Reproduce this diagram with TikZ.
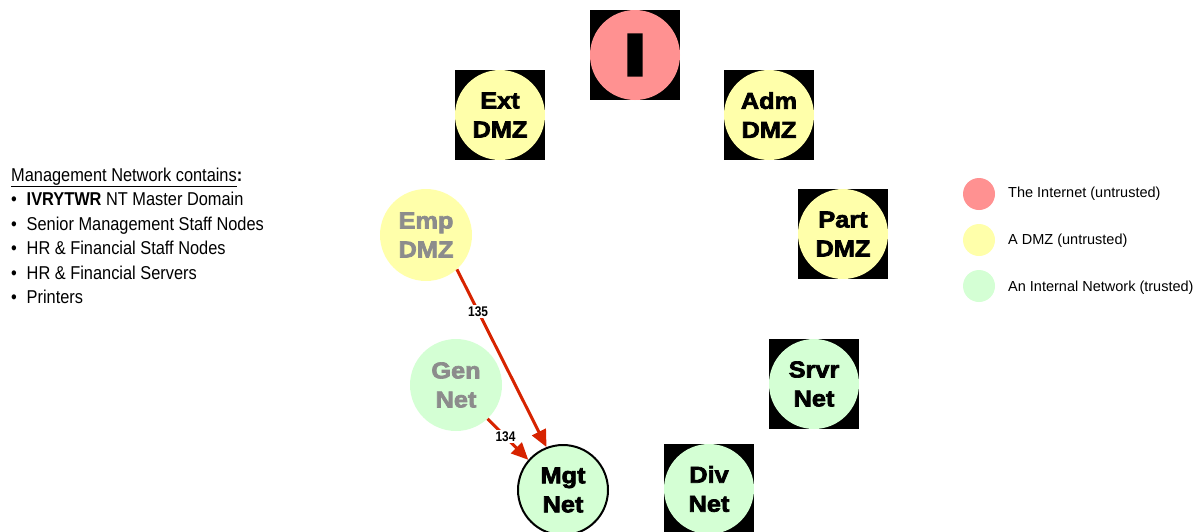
\documentclass[tikz,border=0pt]{standalone}
\usepackage{fontspec}
\setmainfont{Liberation Sans}
\newfontfamily\nodefont{Liberation Sans Bold}[FakeStretch=1.1,FakeBold=3]
\newfontfamily\narrowfont{Liberation Sans}[FakeStretch=0.88]
\newfontfamily\lblfont{Liberation Sans Bold}[FakeStretch=0.85]
\usetikzlibrary{arrows.meta}
\definecolor{inetred}{RGB}{255,145,145}
\definecolor{dmzyellow}{RGB}{255,255,170}
\definecolor{intgreen}{RGB}{212,255,212}
\definecolor{grayt}{RGB}{140,140,140}
\definecolor{arrowred}{RGB}{215,35,0}
\tikzset{
  backsq/.style={rectangle, fill=black, minimum size=90pt, inner sep=0pt},
  netnode/.style={circle, minimum size=90pt, inner sep=0pt, align=center,
    font=\nodefont\fontsize{23}{29}\selectfont},
  legdot/.style={circle, minimum size=32pt, inner sep=0pt},
  legtext/.style={anchor=west, inner sep=0pt, font=\fontsize{14.5}{17}\selectfont},
  listtext/.style={anchor=base west, inner sep=0pt, font=\narrowfont\fontsize{18.6}{22}\selectfont},
  arr/.style={draw=arrowred, line width=3pt, -{Triangle[length=17pt,width=15pt]}},
  lbl/.style={fill=white, inner sep=1.5pt, text=black, font=\lblfont\fontsize{14}{15}\selectfont}
}
\begin{document}
\begin{tikzpicture}[x=1pt,y=-1pt]
\useasboundingbox (0,0) rectangle (1201,531);
% black backing squares
\node[backsq] (isq) at (635,55) {};
\node[backsq] (extsq) at (500,115) {};
\node[backsq] (admsq) at (769,115) {};
\node[backsq] (partsq) at (843,234) {};
\node[backsq] (srvrsq) at (814,384) {};
\node[backsq] (divsq) at (709,489) {};
% network circles
\node[netnode, fill=inetred, font=\nodefont\fontsize{60}{60}\selectfont] (inet) at (isq) {\scalebox{1.35}[1]{I}};
\node[netnode, fill=dmzyellow] (ext) at (extsq) {Ext\\DMZ};
\node[netnode, fill=dmzyellow] (adm) at (admsq) {Adm\\DMZ};
\node[netnode, fill=dmzyellow] (part) at (partsq) {Part\\DMZ};
\node[netnode, fill=intgreen] (srvr) at (srvrsq) {Srvr\\Net};
\node[netnode, fill=intgreen] (div) at (divsq) {Div\\Net};
\node[netnode, fill=dmzyellow, text=grayt, minimum size=92pt] (emp) at (426,235) {Emp\\DMZ};
\node[netnode, fill=intgreen, text=grayt, minimum size=92pt] (gen) at (456,385) {Gen\\Net};
\node[netnode, fill=intgreen, draw=black, line width=2pt] (mgt) at (563,490) {Mgt\\Net};
% connectors
\draw[arr] (emp.-48) -- node[lbl, pos=0.236] {135} (mgt.111);
\draw[arr] (gen.-47) -- node[lbl, pos=0.44] {134} (mgt.139);
% legend
\node[legdot, fill=inetred] (leg1) at (979,194) {};
\node[legdot, fill=dmzyellow] (leg2) at (979,240) {};
\node[legdot, fill=intgreen] (leg3) at (979,286) {};
\node[legtext] (leg1t) at (1008,194) {The Internet (untrusted)};
\node[legtext] (leg2t) at (1008,241) {A DMZ (untrusted)};
\node[legtext] (leg3t) at (1008,288) {An Internal Network (trusted)};
% management list
\node[listtext] (head) at (11,181) {\underline{Management Network contains}\textbf{:}};
\node[listtext] (l1) at (11,205.5) {\makebox[15.5pt][l]{•}\textbf{IVRYTWR} NT Master Domain};
\node[listtext] (l2) at (11,230) {\makebox[15.5pt][l]{•}Senior Management Staff Nodes};
\node[listtext] (l3) at (11,254.5) {\makebox[15.5pt][l]{•}HR \& Financial Staff Nodes};
\node[listtext] (l4) at (11,279) {\makebox[15.5pt][l]{•}HR \& Financial Servers};
\node[listtext] (l5) at (11,303.5) {\makebox[15.5pt][l]{•}Printers};
\end{tikzpicture}
\end{document}
